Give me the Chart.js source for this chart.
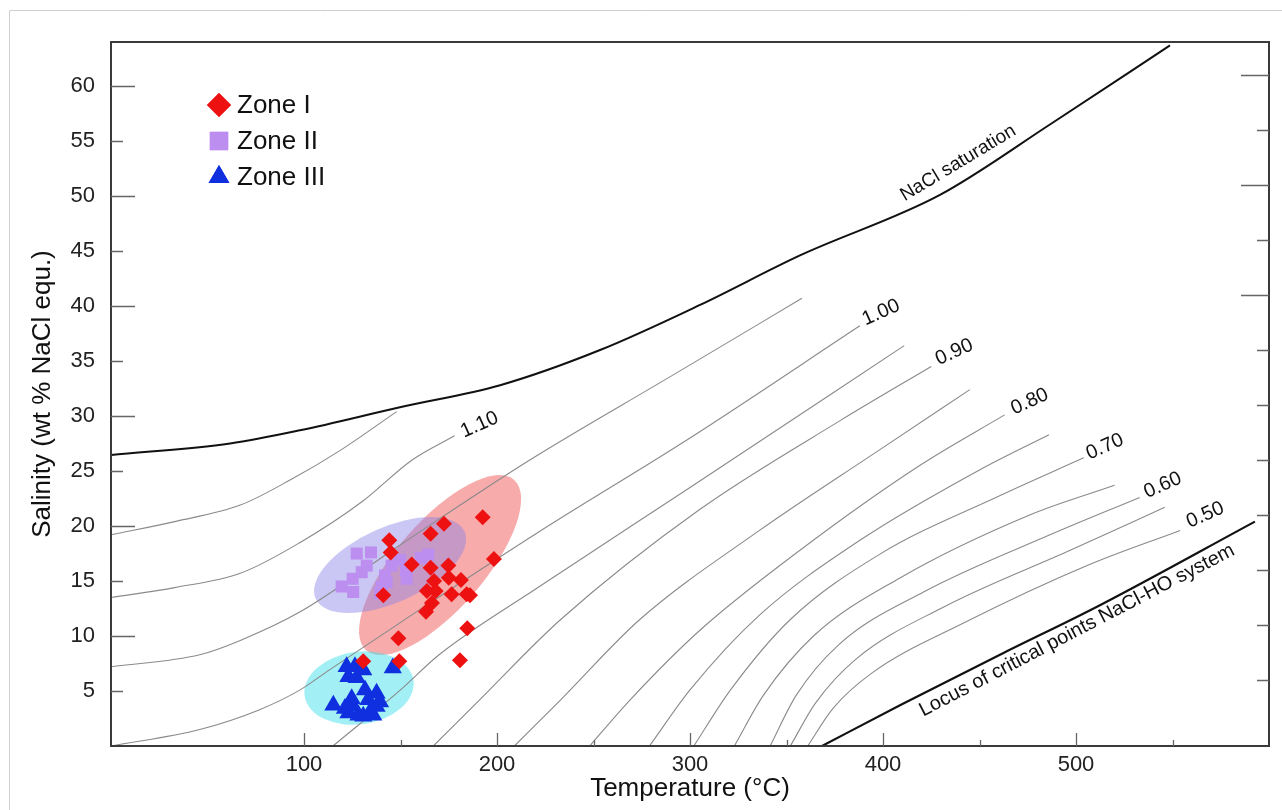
<!DOCTYPE html>
<html><head><meta charset="utf-8">
<script src="https://cdn.jsdelivr.net/npm/chart.js@4/dist/chart.umd.min.js"></script>
<style>html,body{margin:0;padding:0;background:#fff;} canvas{display:block}</style>
</head><body>
<canvas id="c" width="1282" height="810"></canvas>
<script>
// ---- axis ticks ----
const xTickLabels = [100, 200, 300, 400, 500];
const xMinorTicks = [150, 250, 350, 450, 550];
const yTickLabels = [5, 10, 15, 20, 25, 30, 35, 40, 45, 50, 55, 60];
const yRightTicks = [6, 11, 16, 21, 26, 31, 36, 41, 46, 51, 56, 61];

// ---- fluid inclusion data ----
const zoneIT = [192.6,172.5,165.6,144.2,144.9,198.4,155.8,165.6,174.8,167.4,175.0,181.3,163.7,168.2,176.5,184.3,186.0,166.3,163.2,141.1,148.9,184.6,180.8,149.4,130.7];
const zoneIS = [20.8,20.2,19.3,18.7,17.6,17.0,16.5,16.2,16.4,15.0,15.3,15.1,14.1,14.1,13.8,13.8,13.7,13.0,12.2,13.7,9.8,10.7,7.8,7.7,7.7];
const zoneIIT = [127.3,134.7,132.5,129.9,125.2,119.5,125.5,140.2,142.0,145.4,149.7,152.8,153.2,142.8,160.5,164.4,139.4];
const zoneIIS = [17.5,17.6,16.4,15.8,15.2,14.5,14.0,14.5,15.5,16.4,16.9,16.0,15.2,14.9,17.1,17.4,13.9];
const zoneIIIT = [122.1,126.4,130.7,123.0,127.3,146.0,115.2,124.7,125.6,131.6,133.3,137.6,139.4,123.0,128.2,134.2,137.6,130.7,121.2,135.9];
const zoneIIIS = [7.2,7.2,6.9,6.3,6.2,7.1,3.7,4.3,3.6,5.1,4.2,4.8,4.0,3.0,2.8,3.1,3.6,2.7,3.4,2.8];

// ---- phase boundaries ----
const satT = [0, 61.7, 97.9, 149.7, 201.6, 253.4, 305.2, 357.0, 429.5, 486.5, 548.7];
const satS = [26.45, 27.5, 28.7, 30.8, 32.8, 36.0, 40.1, 44.6, 50.1, 56.5, 63.7];
const locusT = [368.4, 408.8, 460.6, 512.4, 592.7];
const locusS = [0, 3.7, 8.3, 12.8, 20.4];

// ---- isodensity lines (g/cm3): [T, S] ----
const iso115 = [[0,19.2],[33,20.4],[67,21.9],[93,24.2],[119,26.9],[148,30.4]];
const iso110 = [[0,13.5],[33,14.4],[67,15.7],[98,18.5],[130,22.2],[156,26],[178,28.2]];
const iso105 = [[0,7.2],[46,8.3],[67,9.6],[98,12.2],[150,18.3],[217,26],[290,33.6],[358,40.7]];
const iso100 = [[0,0],[46,1.5],[77,3.3],[98,5.1],[113,6.9],[160,12.4],[222,19.5],[300,28],[388,38.2]];
const iso095 = [[115,0],[150,5.1],[170,8.3],[222,14.5],[300,23.5],[411,36.4]];
const iso090 = [[167,0],[191,4.2],[233,11.5],[305,21.5],[378,29.6],[425,34.5]];
const iso085 = [[209,0],[233,4.2],[274,11.5],[336,19.6],[398,26.9],[445,32.4]];
const iso080 = [[248,0],[269,4.2],[305,10.5],[357,17.8],[419,25.5],[463,30.1]];
const iso075 = [[279,0],[300,5.1],[336,11.9],[388,18.7],[450,25.1],[486,28.3]];
const iso070 = [[302,0],[321,5.1],[352,11.5],[398,17.4],[461,22.8],[504,26.2]];
const iso065 = [[323,0],[338,4.6],[364,10],[409,15.3],[476,21],[520,23.7]];
const iso060 = [[341.5,0],[355,4.6],[377,9.2],[421,14],[486.5,19.2],[533,22.6]];
const iso055 = [[352,0],[365,3.9],[386,7.9],[431,12.6],[497,17.8],[546,21.7]];
const iso050 = [[361,0],[374,3.4],[394,6.6],[442,11.2],[507,16.5],[554,19.6]];

// ---- isodensity labels ----
const isoLabelText = ['1.10', '1.00', '0.90', '0.80', '0.70', '0.60', '0.50'];
const isoLabelT = [191, 399, 437, 476, 515, 545, 567];
const isoLabelS = [29.2, 39.4, 35.8, 31.3, 27.2, 23.7, 21.0];

// ---- zone envelopes: centre, tip of long axis (T,S) ----
const envCentreT = [170.5, 144.6, 128.5];
const envCentreS = [16.45, 16.45, 5.27];
const envTipT = [208.8, 183.2, 156.7];
const envTipS = [24.2, 19.5, 5.97];
const envRatio = [0.39, 0.46, 0.66];

// ----------------------------------------------------------
const FONT = '"Liberation Sans", Arial, Helvetica, sans-serif';
Chart.defaults.font.family = FONT;
Chart.defaults.color = '#222';

const zip = (a, b) => a.map((v, i) => ({x: v, y: b[i]}));
const pairs = arr => arr.map(p => ({x: p[0], y: p[1]}));

const zoneColors = ['#ee1111', '#bb8ef0', '#1030e0'];
const envColors = ['rgba(238,80,80,0.48)', 'rgba(140,130,230,0.45)', 'rgba(70,225,235,0.5)'];
const zoneNames = ['Zone I', 'Zone II', 'Zone III'];
const zoneStyles = ['rectRot', 'rect', 'triangle'];
const zoneRadius = [8, 8.5, 10.5];

const isoSets = [iso115, iso110, iso105, iso100, iso095, iso090, iso085, iso080, iso075, iso070, iso065, iso060, iso055, iso050];

const datasets = [];
[[zoneIT, zoneIS], [zoneIIT, zoneIIS], [zoneIIIT, zoneIIIS]].forEach((z, i) => {
  datasets.push({
    label: zoneNames[i], data: zip(z[0], z[1]), order: i,
    pointStyle: zoneStyles[i], pointRadius: zoneRadius[i], pointHoverRadius: zoneRadius[i],
    backgroundColor: zoneColors[i], borderColor: zoneColors[i], borderWidth: 0, showLine: false
  });
});
datasets.push({label: 'NaCl saturation', data: zip(satT, satS), showLine: true, pointRadius: 0,
  borderColor: '#111', borderWidth: 2, cubicInterpolationMode: 'monotone', order: 10});
datasets.push({label: 'Locus', data: zip(locusT, locusS), showLine: true, pointRadius: 0,
  borderColor: '#111', borderWidth: 2.2, cubicInterpolationMode: 'monotone', order: 10});
isoSets.forEach((s, i) => datasets.push({
  label: 'iso' + i, data: pairs(s), showLine: true, pointRadius: 0,
  borderColor: '#8a8a8a', borderWidth: 1.1, cubicInterpolationMode: 'monotone', order: 20
}));

const decor = {
  id: 'decor',
  beforeDatasetsDraw(chart) {
    const {ctx, chartArea: a, scales: {x, y}} = chart;
    ctx.save();
    ctx.beginPath(); ctx.rect(a.left, a.top, a.right - a.left, a.bottom - a.top); ctx.clip();
    envCentreT.forEach((t, i) => {
      const cx = x.getPixelForValue(t), cy = y.getPixelForValue(envCentreS[i]);
      const tx = x.getPixelForValue(envTipT[i]), ty = y.getPixelForValue(envTipS[i]);
      const ra = Math.hypot(tx - cx, ty - cy);
      const ang = Math.atan2(ty - cy, tx - cx);
      ctx.beginPath();
      ctx.ellipse(cx, cy, ra, ra * envRatio[i], ang, 0, Math.PI * 2);
      ctx.fillStyle = envColors[i];
      ctx.fill();
    });
    ctx.restore();
  },
  afterDatasetsDraw(chart) {
    const {ctx, chartArea: a, scales: {x, y}} = chart;
    ctx.save();
    const rotText = (txt, px, py, deg, size) => {
      ctx.save();
      ctx.translate(px, py); ctx.rotate(deg * Math.PI / 180);
      ctx.font = size + 'px ' + FONT; ctx.fillStyle = '#111';
      ctx.textAlign = 'center'; ctx.textBaseline = 'middle';
      ctx.fillText(txt, 0, 0);
      ctx.restore();
    };
    isoLabelText.forEach((t, i) => rotText(t, x.getPixelForValue(isoLabelT[i]), y.getPixelForValue(isoLabelS[i]), -24, 20));
    rotText('NaCl saturation', x.getPixelForValue(439), y.getPixelForValue(53), -31, 19);
    rotText('Locus of critical points NaCl-HO system', x.getPixelForValue(500.5), y.getPixelForValue(10.5), -27.5, 20);

    // legend
    zoneNames.forEach((n, i) => {
      const ly = 105 + i * 36;
      ctx.fillStyle = zoneColors[i]; ctx.strokeStyle = zoneColors[i];
      Chart.helpers.drawPoint(ctx, {pointStyle: zoneStyles[i], radius: i === 1 ? 13 : 12, borderWidth: 0, rotation: 0}, 219, ly);
      ctx.fill();
      ctx.font = '26px ' + FONT; ctx.fillStyle = '#111';
      ctx.textAlign = 'left'; ctx.textBaseline = 'middle';
      ctx.fillText(n, 237, ly + 1);
    });

    // frame
    ctx.strokeStyle = '#3a3a3a'; ctx.lineWidth = 2;
    ctx.strokeRect(a.left, a.top, a.right - a.left, a.bottom - a.top);
    ctx.strokeStyle = '#666'; ctx.lineWidth = 1.3;
    ctx.beginPath();
    xTickLabels.forEach(v => { const px = Math.round(x.getPixelForValue(v)) + 0.5; ctx.moveTo(px, a.bottom); ctx.lineTo(px, a.bottom - 13); });
    xMinorTicks.forEach(v => { const px = Math.round(x.getPixelForValue(v)) + 0.5; ctx.moveTo(px, a.bottom); ctx.lineTo(px, a.bottom - 6); });
    yTickLabels.forEach(v => { const py = Math.round(y.getPixelForValue(v)) + 0.5; const L = v % 10 === 0 ? 24 : 12; ctx.moveTo(a.left, py); ctx.lineTo(a.left + L, py); });
    yRightTicks.forEach(v => { const py = Math.round(y.getPixelForValue(v)) + 0.5; const L = (v === 41 || v === 51 || v === 61) ? 28 : 12; ctx.moveTo(a.right, py); ctx.lineTo(a.right - L, py); });
    ctx.stroke();
    ctx.strokeStyle = '#cfcfcf'; ctx.lineWidth = 1;
    ctx.beginPath(); ctx.moveTo(9.5, 810); ctx.lineTo(9.5, 10.5); ctx.lineTo(1282, 10.5); ctx.stroke();
    ctx.restore();
  }
};

new Chart(document.getElementById('c'), {
  type: 'scatter',
  data: {datasets},
  options: {
    responsive: false, animation: false, devicePixelRatio: 1,
    layout: {padding: {left: 0, right: 13, top: 42, bottom: 0}},
    plugins: {legend: {display: false}, tooltip: {enabled: false}},
    scales: {
      x: {
        type: 'linear', min: 0, max: 600,
        afterFit: s => { s.height = 64; },
        afterBuildTicks: s => { s.ticks = xTickLabels.map(v => ({value: v})); },
        grid: {display: false, drawTicks: false}, border: {display: false},
        ticks: {padding: 6, font: {size: 22}, color: '#222', maxRotation: 0, autoSkip: false},
        title: {display: true, text: 'Temperature (°C)', font: {size: 26}, color: '#111', padding: {top: 0, bottom: 6}}
      },
      y: {
        type: 'linear', min: 0, max: 64,
        afterFit: s => { s.width = 111; },
        afterBuildTicks: s => { s.ticks = yTickLabels.map(v => ({value: v})); },
        grid: {display: false, drawTicks: false}, border: {display: false},
        ticks: {padding: 16, font: {size: 22}, color: '#222', autoSkip: false},
        title: {display: true, text: 'Salinity (wt % NaCl equ.)', font: {size: 26}, color: '#111', padding: {top: 27, bottom: 0}}
      }
    }
  },
  plugins: [decor]
});
</script>
</body></html>
